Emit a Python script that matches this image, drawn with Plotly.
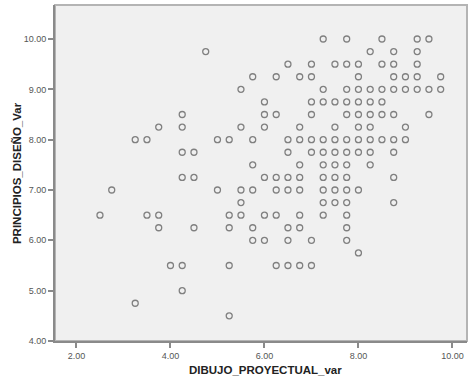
import plotly.graph_objects as go

# PRINCIPIOS_DISEÑO_Var levels (rows) and DIBUJO_PROYECTUAL_var values observed at each level
principios_levels = [10.0, 9.75, 9.5, 9.25, 9.0, 8.75, 8.5, 8.25, 8.0, 7.75, 7.5,
                     7.25, 7.0, 6.75, 6.5, 6.25, 6.0, 5.75, 5.5, 5.0, 4.75, 4.5]
dibujo_at_level = [
    [7.25, 7.75, 8.5, 9.25, 9.5],
    [4.75, 8.25, 8.75, 9.25],
    [6.5, 7.0, 7.5, 7.75, 8.0, 8.5, 8.75, 9.25],
    [5.75, 6.25, 6.75, 7.0, 8.0, 8.75, 9.0, 9.25, 9.75],
    [5.5, 7.25, 7.75, 8.0, 8.25, 8.5, 8.75, 9.0, 9.25, 9.5, 9.75],
    [6.0, 7.0, 7.25, 7.5, 7.75, 8.0, 8.25, 8.5],
    [4.25, 6.0, 6.25, 7.0, 7.75, 8.0, 8.25, 8.5, 8.75, 9.5],
    [3.75, 4.25, 5.5, 6.0, 6.75, 7.5, 8.0, 8.25, 9.0],
    [3.25, 3.5, 5.0, 5.25, 5.75, 6.5, 6.75, 7.0, 7.25, 7.5, 7.75, 8.0, 8.25, 8.5, 8.75, 9.0],
    [4.25, 4.5, 6.5, 7.0, 7.25, 7.5, 7.75, 8.0, 8.25, 8.75],
    [5.75, 6.75, 7.25, 7.5, 7.75, 8.25],
    [4.25, 4.5, 6.0, 6.25, 6.5, 6.75, 7.25, 7.5, 7.75, 8.75],
    [2.75, 5.0, 5.5, 5.75, 6.25, 6.5, 6.75, 7.25, 7.5, 7.75, 8.0],
    [5.5, 7.25, 7.5, 7.75, 8.75],
    [2.5, 3.5, 3.75, 5.25, 5.5, 6.0, 6.25, 6.75, 7.25, 7.75],
    [3.75, 4.5, 5.25, 5.75, 6.5, 6.75, 7.75],
    [5.75, 6.0, 6.5, 7.0, 7.75],
    [8.0],
    [4.0, 4.25, 5.25, 6.25, 6.5, 6.75, 7.0],
    [4.25],
    [3.25],
    [5.25],
]

x_ticks = [2, 4, 6, 8, 10]
y_ticks = [4, 5, 6, 7, 8, 9, 10]
x_title = "DIBUJO_PROYECTUAL_var"
y_title = "PRINCIPIOS_DISEÑO_Var"

xs, ys = [], []
for lvl, row in zip(principios_levels, dibujo_at_level):
    for v in row:
        xs.append(v)
        ys.append(lvl)

fig = go.Figure()
fig.add_trace(go.Scatter(
    x=xs, y=ys, mode="markers",
    marker=dict(symbol="circle-open", size=6, color="#808080",
                line=dict(width=1.3, color="#808080")),
    hoverinfo="x+y", showlegend=False,
))

axis_common = dict(
    showgrid=False, zeroline=False, showline=True, linecolor="#8a8a8a", linewidth=2,
    ticks="outside", ticklen=5, tickwidth=1.5, tickcolor="#8a8a8a",
    tickfont=dict(family="Liberation Sans, Arial, sans-serif", size=9, color="#555555"),
    tickformat=".2f", automargin=False,
)

fig.update_layout(
    width=470, height=381,
    margin=dict(l=55, r=3, t=5, b=40),
    paper_bgcolor="white", plot_bgcolor="#f0f0f0",
    font=dict(family="Liberation Sans, Arial, sans-serif"),
    xaxis=dict(range=[1.543, 10.31], tickvals=x_ticks, **axis_common),
    yaxis=dict(range=[4.0, 10.676], tickvals=y_ticks, **axis_common),
    shapes=[dict(type="rect", xref="paper", yref="paper", x0=0, y0=0, x1=1, y1=1,
                 line=dict(color="#b4b4b4", width=2), layer="below")],
    annotations=[
        dict(text="<b>" + x_title + "</b>", xref="paper", yref="paper",
             x=0.51, y=-0.086, xanchor="center", yanchor="middle", showarrow=False,
             font=dict(size=11.5, color="#222222")),
        dict(text="<b>" + y_title + "</b>", xref="paper", yref="paper",
             x=-0.092, y=0.5, xanchor="center", yanchor="middle", showarrow=False,
             textangle=-90, font=dict(size=11.5, color="#222222")),
    ],
)

fig.write_html("out.html", config={"displayModeBar": False},
               post_script="document.body.style.margin='0px';document.body.style.overflow='hidden';")
